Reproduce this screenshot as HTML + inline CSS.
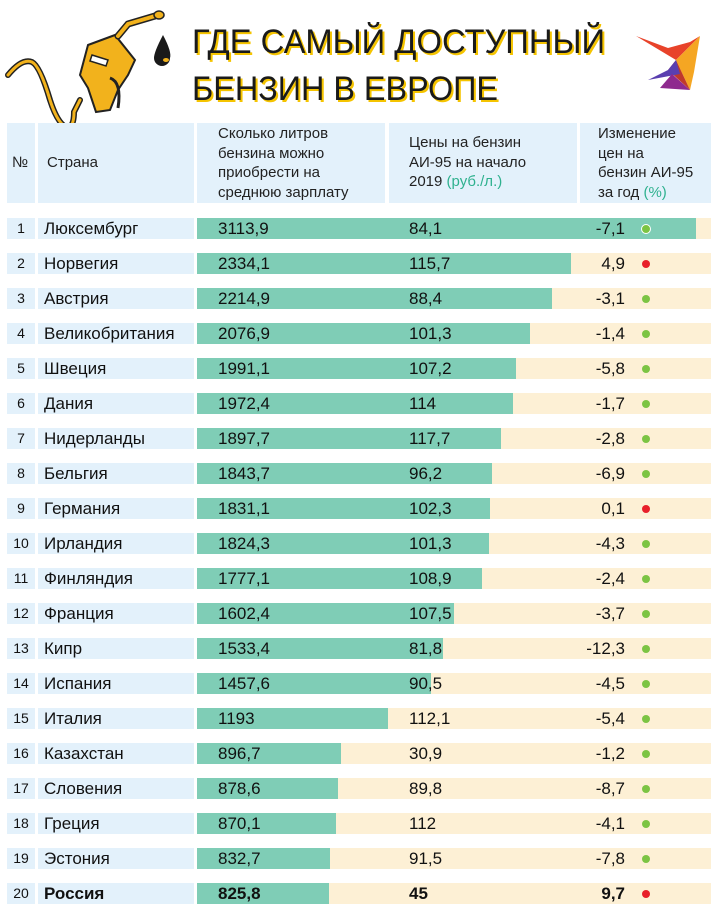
<!DOCTYPE html>
<html><head><meta charset="utf-8">
<style>
body{margin:0;background:#fff;width:720px;height:917px;overflow:hidden;font-family:"Liberation Sans",sans-serif;}
#root{position:relative;width:720px;height:917px;}
.c{position:absolute;}
.hd{position:absolute;background:#e3f1fb;top:123px;height:80px;}
.ht{position:absolute;font-size:15px;line-height:19.5px;color:#222;}
.g{color:#2fb18f;}
.cell{position:absolute;height:21px;}
.tx{position:absolute;font-size:17px;line-height:21px;color:#111;white-space:nowrap;}
</style></head><body>
<div id="root">
<svg class="c" style="left:0;top:0" width="720" height="123">
  <g>
    <path d="M8,75 Q22,58 32,62 Q40,66 50,100 Q58,125 68,128 Q74,126 74,112 L80,100" fill="none" stroke="#222" stroke-width="6" stroke-linecap="round"/>
    <path d="M8,75 Q22,58 32,62 Q40,66 50,100 Q58,125 68,128 Q74,126 74,112 L80,100" fill="none" stroke="#f2b21c" stroke-width="3" stroke-linecap="round"/>
    <path d="M88,45 L115,35 L135,60 L128,75 L118,90 L110,110 L96,112 L88,88 L80,75 Z" fill="#f2b21c" stroke="#222" stroke-width="2"/>
    <path d="M92,55 L108,60 L106,66 L90,61 Z" fill="#fff" stroke="#222" stroke-width="1.5"/>
    <path d="M118,36 L128,24 L155,16" fill="none" stroke="#222" stroke-width="7" stroke-linecap="round"/>
    <path d="M118,36 L128,24 L155,16" fill="none" stroke="#f2b21c" stroke-width="4" stroke-linecap="round"/>
    <ellipse cx="159" cy="15" rx="5" ry="4" fill="#f2b21c" stroke="#222" stroke-width="1.5"/>
    <path d="M110,78 Q122,82 118,108" fill="none" stroke="#222" stroke-width="3"/>
    <path d="M163,35 Q172,52 170,58 A8,8 0 1 1 154,58 Q154,52 163,35 Z" fill="#1a1a1a"/>
    <ellipse cx="166" cy="60" rx="3" ry="2" fill="#f2b21c"/>
  </g>
  <g font-family="Liberation Sans, sans-serif" font-size="34" fill="#1a1a1a">
    <text x="194" y="55" textLength="413" lengthAdjust="spacingAndGlyphs" fill="#f5c400">ГДЕ САМЫЙ ДОСТУПНЫЙ</text>
    <text x="192" y="53" textLength="413" lengthAdjust="spacingAndGlyphs">ГДЕ САМЫЙ ДОСТУПНЫЙ</text>
    <text x="194" y="102" textLength="306" lengthAdjust="spacingAndGlyphs" fill="#f5c400">БЕНЗИН В ЕВРОПЕ</text>
    <text x="192" y="100" textLength="306" lengthAdjust="spacingAndGlyphs">БЕНЗИН В ЕВРОПЕ</text>
  </g>
  <g>
    <polygon points="636,36 668,48 690,42 700,36 676,60" fill="#e8432a"/>
    <polygon points="676,60 700,36 694,72 690,90" fill="#f5a623"/>
    <polygon points="676,60 690,90 668,70" fill="#c0392b"/>
    <polygon points="668,70 676,60 680,74 648,80" fill="#5a3fb0"/>
    <polygon points="672,74 690,90 660,88" fill="#8e2a8e"/>
  </g>
</svg>

<div class="hd" style="left:7px;width:28px"><div class="ht" style="left:5px;top:30px">№</div></div>
<div class="hd" style="left:38px;width:156px"><div class="ht" style="left:9px;top:30px">Страна</div></div>
<div class="hd" style="left:197px;width:188px"><div class="ht" style="left:21px;top:1px">Сколько литров<br>бензина можно<br>приобрести на<br>среднюю зарплату</div></div>
<div class="hd" style="left:389px;width:188px"><div class="ht" style="left:20px;top:10px">Цены на бензин<br>АИ-95 на начало<br>2019 <span class="g">(руб./л.)</span></div></div>
<div class="hd" style="left:580px;width:131px"><div class="ht" style="left:18px;top:1px">Изменение<br>цен на<br>бензин АИ-95<br>за год <span class="g">(%)</span></div></div>
<div id="rows"></div>
</div>
<script>
const countries=["Люксембург","Норвегия","Австрия","Великобритания","Швеция","Дания","Нидерланды","Бельгия","Германия","Ирландия","Финляндия","Франция","Кипр","Испания","Италия","Казахстан","Словения","Греция","Эстония","Россия"];
const liters=[3113.9,2334.1,2214.9,2076.9,1991.1,1972.4,1897.7,1843.7,1831.1,1824.3,1777.1,1602.4,1533.4,1457.6,1193,896.7,878.6,870.1,832.7,825.8];
const prices=[84.1,115.7,88.4,101.3,107.2,114,117.7,96.2,102.3,101.3,108.9,107.5,81.8,90.5,112.1,30.9,89.8,112,91.5,45];
const changes=[-7.1,4.9,-3.1,-1.4,-5.8,-1.7,-2.8,-6.9,0.1,-4.3,-2.4,-3.7,-12.3,-4.5,-5.4,-1.2,-8.7,-4.1,-7.8,9.7];
const x0=197, xMaxPx=499;
function xScale(v){return v/3113.9*xMaxPx;}
function rowY(i){return 218+i*35;}
function fmt(v){return String(v).replace('.',',');}
const root=document.getElementById('rows');
function mk(cls,style,name,parent){const d=document.createElement('div');d.className=cls;d.style.cssText=style;


(parent||root).appendChild(d);return d;}
countries.forEach((c,i)=>{
  const y=rowY(i), bold=i===19?'font-weight:bold;':'';
  const n=mk('cell',`left:7px;top:${y}px;width:28px;background:#e3f1fb`,'row-number');
  const nt=mk('tx',`left:0;width:28px;text-align:center;font-size:14px;`,'row-number-text',n);nt.textContent=i+1;
  const cc=mk('cell',`left:38px;top:${y}px;width:156px;background:#e3f1fb`,'country-cell');
  const ct=mk('tx',`left:6px;${bold}`,'country-name',cc);ct.textContent=c;
  mk('cell',`left:${x0}px;top:${y}px;width:514px;background:#fdf0d5`,'row-background');
  mk('cell',`left:${x0}px;top:${y}px;width:${xScale(liters[i])}px;background:#7fcdb6`,'liters-bar');
  const lt=mk('tx',`left:218px;top:${y}px;${bold}`,'liters-value');lt.textContent=fmt(liters[i]);
  const pt=mk('tx',`left:409px;top:${y}px;${bold}`,'price-value');pt.textContent=fmt(prices[i]);
  const ch=mk('tx',`left:555px;width:70px;text-align:right;top:${y}px;${bold}`,'change-value');ch.textContent=fmt(changes[i]);
  const col=changes[i]<0?'#7cc443':'#e8202a';
  const ring=i===0?'border:1.5px solid #fff;':'';
  mk('c',`left:${642-(i===0?1.5:0)}px;top:${y+7-(i===0?1.5:0)}px;width:8px;height:8px;border-radius:50%;background:${col};${ring}`,'change-dot');
});
</script>
</body></html>
